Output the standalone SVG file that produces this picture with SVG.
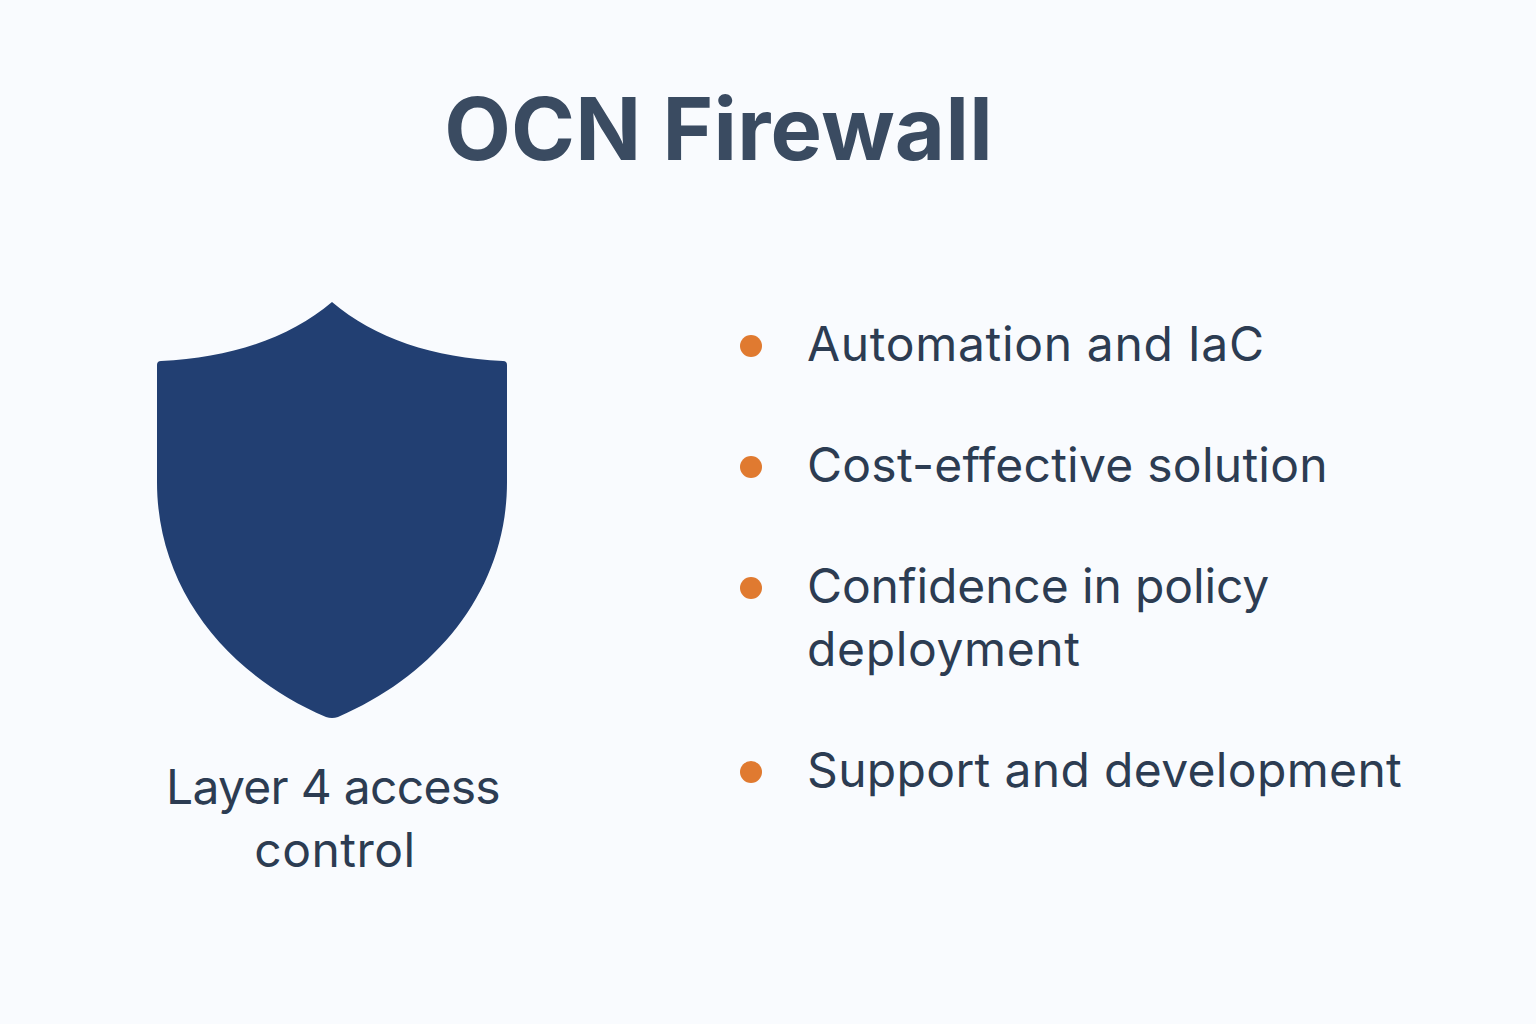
<svg xmlns="http://www.w3.org/2000/svg" width="1536" height="1024" viewBox="0 0 1536 1024">
<style>
.t{font-family:Inter,"Noto Sans",sans-serif;font-size:48px;fill:#2c3c52}
.d{fill:#e07a30}
</style>
<rect width="1536" height="1024" fill="#f9fbfe"/>
<text id="title" x="718.5" y="160" text-anchor="middle" style="font-family:Inter,'Noto Sans',sans-serif;font-size:86.5px;font-weight:650;fill:#3a4b61;letter-spacing:0.3px">OCN Firewall</text>
<g id="shield">
<path d="M332 302C290 338 230 358 161 361Q157 361 157 365L157 482C157 590 228 675 326 717Q332 719 338 717C436 675 507 590 507 482L507 365Q507 361 503 361C434 358 374 338 332 302Z" fill="#223f72"/>
<text class="t" x="333" y="804" text-anchor="middle" letter-spacing="-0.72">Layer 4 access</text>
<text class="t" x="335" y="867" text-anchor="middle" letter-spacing="0.5">control</text>
</g>
<g id="item1"><circle class="d" cx="751" cy="346" r="11"/><text class="t" x="807" y="361" letter-spacing="0.67">Automation and IaC</text></g>
<g id="item2"><circle class="d" cx="751" cy="467" r="11"/><text class="t" x="807" y="482" letter-spacing="0.25">Cost-effective solution</text></g>
<g id="item3"><circle class="d" cx="751" cy="588" r="11"/><text class="t" x="807" y="603" letter-spacing="-0.12">Confidence in policy</text><text class="t" x="807" y="666" letter-spacing="0.64">deployment</text></g>
<g id="item4"><circle class="d" cx="751" cy="772" r="11"/><text class="t" x="807" y="787" letter-spacing="0.34">Support and development</text></g>
</svg>
